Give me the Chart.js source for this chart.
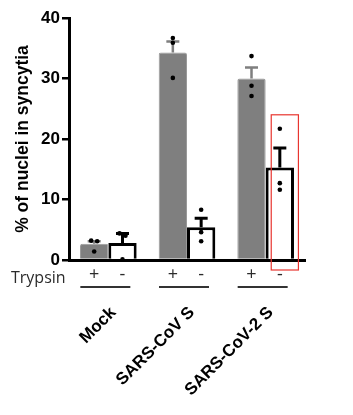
<!DOCTYPE html>
<html>
<head>
<meta charset="utf-8">
<script src="https://cdn.jsdelivr.net/npm/chart.js@4/dist/chart.umd.min.js"></script>
<style>
html,body{margin:0;padding:0;background:#fff;}
#wrap{width:353px;height:415px;position:relative;}
</style>
</head>
<body>
<div id="wrap"><canvas id="c" width="353" height="415"></canvas></div>
<script>
const categories = ['Mock', 'SARS-CoV S', 'SARS-CoV-2 S'];
const trypsinLabels = ['+', '-'];
const yTicks = [0, 10, 20, 30, 40];
const plusMeans = [2.7, 34.3, 30.0];
const plusErr = [0.4, 1.8, 1.8];
const minusMeans = [2.8, 5.4, 15.3];
const minusErr = [1.6, 1.5, 3.2];
const plusPoints = [[3.2, 3.1, 1.4], [30.1, 36.7, 35.9], [33.7, 28.8, 27.1]];
const minusPoints = [[4.4, 4.0, 0.1], [8.3, 4.6, 3.1], [21.7, 12.7, 11.6]];
const highlight = {category: 2, dataset: 1, top: 24};

const GRAY = '#7f7f7f';

const overlay = {
  id: 'overlay',
  afterDatasetsDraw(chart) {
    const ctx = chart.ctx;
    const y = chart.scales.y;
    const errs = [plusErr, minusErr];
    const means = [plusMeans, minusMeans];
    const colors = [GRAY, '#000'];
    [0, 1].forEach(di => {
      const meta = chart.getDatasetMeta(di);
      meta.data.forEach((bar, i) => {
        const x = bar.x;
        const top = y.getPixelForValue(means[di][i]);
        const et = y.getPixelForValue(means[di][i] + errs[di][i]);
        ctx.save();
        ctx.strokeStyle = colors[di];
        ctx.lineWidth = di === 0 ? 2.5 : 3;
        ctx.beginPath();
        ctx.moveTo(x, top);
        ctx.lineTo(x, et);
        ctx.moveTo(x - 6.5, et);
        ctx.lineTo(x + 6.5, et);
        ctx.stroke();
        ctx.restore();
      });
    });
  },
  afterDraw(chart) {
    const ctx = chart.ctx;
    const y = chart.scales.y;
    const xs = chart.scales.x;
    const pts = [plusPoints, minusPoints];
    // dots
    [0, 1].forEach(di => {
      const meta = chart.getDatasetMeta(di);
      meta.data.forEach((bar, i) => {
        const vals = pts[di][i];
        vals.forEach((v, k) => {
          let off = 0;
          vals.forEach((w, m) => {
            if (m !== k && Math.abs(w - v) < 0.8) off = m > k ? -3 : 3;
          });
          ctx.save();
          ctx.fillStyle = '#000';
          ctx.beginPath();
          ctx.arc(bar.x + off, y.getPixelForValue(v), 2.3, 0, Math.PI * 2);
          ctx.fill();
          ctx.restore();
        });
      });
    });
    // trypsin row
    const rowY = chart.chartArea.bottom + 15;
    ctx.save();
    ctx.fillStyle = '#2b2b2b';
    ctx.font = '16px "Open Sans"';
    ctx.textAlign = 'left';
    ctx.textBaseline = 'middle';
    ctx.fillText('Trypsin', 11, rowY + 3);
    ctx.font = '18px "Open Sans"';
    ctx.textAlign = 'center';
    [0, 1].forEach(di => {
      chart.getDatasetMeta(di).data.forEach(bar => {
        ctx.fillText(trypsinLabels[di], bar.x, rowY);
      });
    });
    // group lines
    ctx.strokeStyle = '#333';
    ctx.lineWidth = 2;
    categories.forEach((c, i) => {
      const cx = xs.getPixelForValue(i) - 3;
      ctx.beginPath();
      ctx.moveTo(cx - 25, rowY + 12);
      ctx.lineTo(cx + 25, rowY + 12);
      ctx.stroke();
    });
    // category labels
    ctx.fillStyle = '#000';
    ctx.font = 'bold 17px "Liberation Sans", Arial, sans-serif';
    ctx.textAlign = 'right';
    ctx.textBaseline = 'middle';
    categories.forEach((c, i) => {
      const cx = xs.getPixelForValue(i) + 5;
      ctx.save();
      ctx.translate(cx, rowY + 35);
      ctx.rotate(-Math.PI / 4);
      ctx.fillText(c, 0, 0);
      ctx.restore();
    });
    // red highlight box
    const hb = chart.getDatasetMeta(highlight.dataset).data[highlight.category];
    const hw = hb.width * 0.96;
    const hx = hb.x + 5 - hw / 2;
    const hy = y.getPixelForValue(highlight.top);
    const hbot = chart.chartArea.bottom + 10;
    ctx.strokeStyle = '#e8352f';
    ctx.lineWidth = 1.2;
    ctx.strokeRect(hx, hy, hw, hbot - hy);
    ctx.restore();
  }
};

new Chart(document.getElementById('c'), {
  type: 'bar',
  data: {
    labels: categories,
    datasets: [
      {
        data: plusMeans,
        backgroundColor: GRAY,
        borderColor: '#999',
        borderWidth: 1,
        borderRadius: {topLeft: 2, topRight: 2},
        borderSkipped: 'bottom',
        categoryPercentage: 0.72,
        barPercentage: 1.0
      },
      {
        data: minusMeans,
        backgroundColor: '#fff',
        borderColor: '#000',
        borderWidth: 3,
        borderSkipped: 'bottom',
        categoryPercentage: 0.72,
        barPercentage: 1.0
      }
    ]
  },
  options: {
    responsive: false,
    animation: false,
    devicePixelRatio: 1,
    layout: {padding: {top: 18, right: 48, left: 0, bottom: 0}},
    plugins: {legend: {display: false}, tooltip: {enabled: false}},
    scales: {
      x: {
        z: 1,
        grid: {display: false},
        ticks: {display: false},
        border: {display: true, color: '#000', width: 3},
        afterFit(s) { s.height = 155; }
      },
      y: {
        z: 1,
        min: 0,
        max: 40,
        afterBuildTicks(s) { s.ticks = yTicks.map(v => ({value: v})); },
        grid: {display: true, drawOnChartArea: false, drawTicks: true, tickLength: 7, color: '#000', lineWidth: 2.5},
        border: {display: true, color: '#000', width: 3},
        ticks: {
          color: '#000',
          padding: 2,
          font: {family: '"Liberation Sans", Arial, sans-serif', size: 17, weight: 'bold'}
        },
        title: {
          display: true,
          text: '% of nuclei in syncytia',
          color: '#000',
          padding: {top: 13, bottom: 0},
          font: {family: '"Liberation Sans", Arial, sans-serif', size: 17.5, weight: 'bold'}
        },
        afterFit(s) { s.width = 69; }
      }
    }
  },
  plugins: [overlay]
});
</script>
</body>
</html>
